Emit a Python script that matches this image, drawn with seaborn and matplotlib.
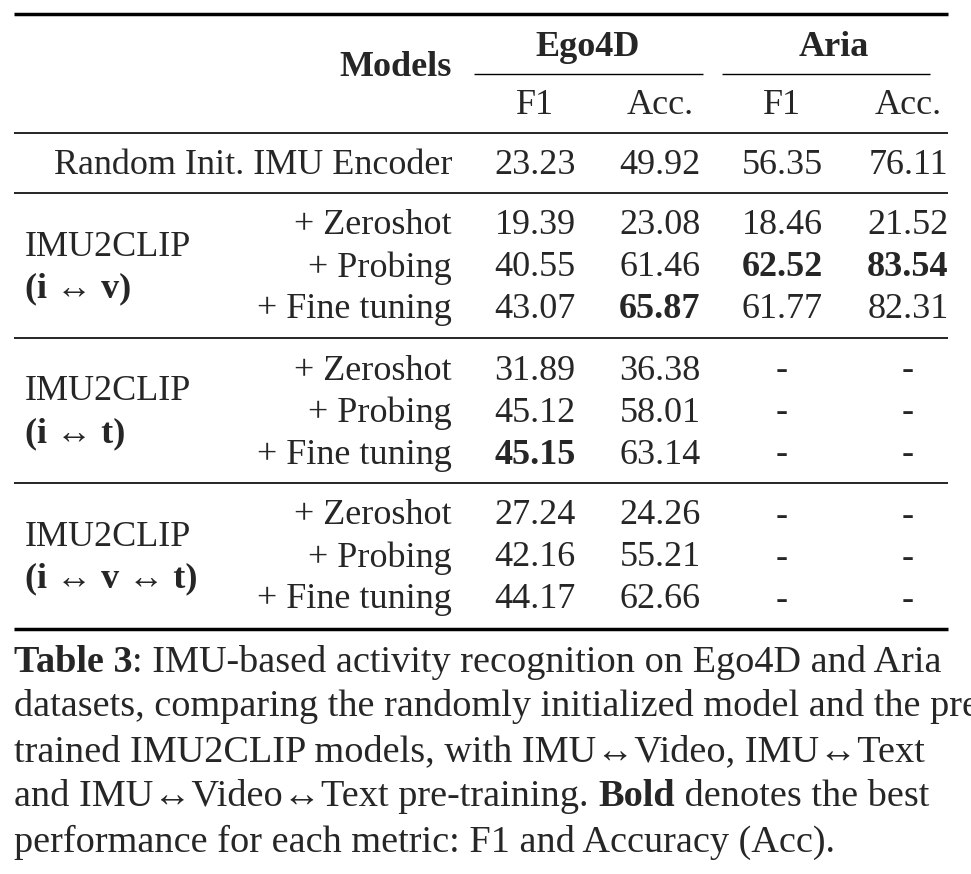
import matplotlib
matplotlib.use("Agg")
import matplotlib.pyplot as plt
import seaborn as sns

sns.set_theme(style="white")
plt.rcParams["font.family"] = ["Liberation Serif", "DejaVu Serif"]

groups = ["Random Init. IMU Encoder", "IMU2CLIP\n(i ↔ v)", "IMU2CLIP\n(i ↔ t)", "IMU2CLIP\n(i ↔ v ↔ t)"]
steps = ["+ Zeroshot", "+ Probing", "+ Fine tuning"]
ego_f1 = ["23.23", "19.39", "40.55", "43.07", "31.89", "45.12", "45.15", "27.24", "42.16", "44.17"]
ego_acc = ["49.92", "23.08", "61.46", "65.87", "36.38", "58.01", "63.14", "24.26", "55.21", "62.66"]
aria_f1 = ["56.35", "18.46", "62.52", "61.77", "-", "-", "-", "-", "-", "-"]
aria_acc = ["76.11", "21.52", "83.54", "82.31", "-", "-", "-", "-", "-", "-"]
bold_cells = {(3, 1), (2, 2), (2, 3), (6, 0)}  # (row, column)

caption = [
    [("Table 3", "bold"), (": IMU-based activity recognition on Ego4D and Aria", "normal")],
    [("datasets, comparing the randomly initialized model and the pre-", "normal")],
    [("trained IMU2CLIP models, with IMU↔Video, IMU↔Text", "normal")],
    [("and IMU↔Video↔Text pre-training. ", "normal"), ("Bold", "bold"), (" denotes the best", "normal")],
    [("performance for each metric: F1 and Accuracy (Acc).", "normal")],
]

W, H = 971, 874
fig = plt.figure(figsize=(W / 100, H / 100), dpi=100)
ax = fig.add_axes([0, 0, 1, 1])
ax.set_xlim(0, W)
ax.set_ylim(H, 0)
ax.axis("off")
fs = 26
cfs = 27.5

def rule(y, x0=14, x1=948, lw=2.0):
    ax.plot([x0, x1], [y, y], color="black", lw=lw, solid_capstyle="butt")

rule(14, lw=2.5)
ax.text(452, 67, "Models", ha="right", va="center", fontsize=fs, fontweight="bold")
ax.text(588, 47, "Ego4D", ha="center", va="center", fontsize=fs, fontweight="bold")
ax.text(834, 47, "Aria", ha="center", va="center", fontsize=fs, fontweight="bold")
rule(74, 474, 703, lw=1.0)
rule(74, 722, 930, lw=1.0)
col_x = [535, 660, 782, 908]
for x, lab in zip(col_x, ["F1", "Acc.", "F1", "Acc."]):
    ax.text(x, 105, lab, ha="center", va="center", fontsize=fs)
rule(133, lw=1.2)

row_y = [165, 226, 268, 309, 371, 413, 455, 516, 558, 600]
ax.text(452, row_y[0], groups[0], ha="right", va="center", fontsize=fs)
for g in range(3):
    ys = row_y[1 + 3 * g: 4 + 3 * g]
    name, sub = groups[g + 1].split("\n")
    ax.text(25, ys[0] + 21, name, ha="left", va="center", fontsize=fs)
    ax.text(25, ys[1] + 21, sub, ha="left", va="center", fontsize=fs, fontweight="bold")
    for y, s in zip(ys, steps):
        ax.text(452, y, s, ha="right", va="center", fontsize=fs)

cols = [ego_f1, ego_acc, aria_f1, aria_acc]
for r, y in enumerate(row_y):
    for c, vals in enumerate(cols):
        ax.text(col_x[c], y, vals[r], ha="center", va="center", fontsize=fs,
                fontweight="bold" if (r, c) in bold_cells else "normal")

for y in [193, 338, 483]:
    rule(y, lw=1.2)
rule(629, lw=2.5)

fig.canvas.draw()
renderer = fig.canvas.get_renderer()
inv = ax.transData.inverted()
for i, parts in enumerate(caption):
    x = 14
    y = 662 + 45 * i
    for s, w in parts:
        t = ax.text(x, y, s, ha="left", va="center", fontsize=cfs, fontweight=w)
        bb = t.get_window_extent(renderer)
        x = inv.transform((bb.x1, bb.y0))[0]

fig.savefig("out.png", dpi=100)
